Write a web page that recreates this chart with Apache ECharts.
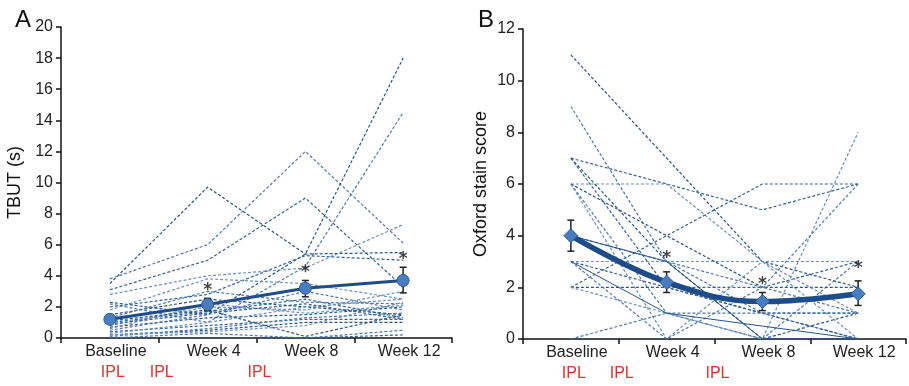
<!DOCTYPE html>
<html>
<head>
<meta charset="utf-8">
<script src="https://cdn.jsdelivr.net/npm/echarts@6/dist/echarts.min.js"></script>
<style>
  html, body { margin: 0; padding: 0; background: #fff; }
  #main { width: 909px; height: 386px; }
</style>
</head>
<body>
<div id="main"></div>
<script>
var visits = ['Baseline', 'Week 4', 'Week 8', 'Week 12'];
// half-step slots used for the IPL treatment marks under the axis
var iplSlots = ['', 'IPL', 'IPL', '', 'IPL', '', '', '', ''];

// panel A: TBUT (s), one row per patient
var tbutPatients = [
    [3.5, 9.7, 5.4, 5.5],
    [3.8, 6.0, 12.0, 6.1],
    [3.1, 5.0, 9.0, 3.3],
    [2.8, 4.0, 4.5, 7.3],
    [2.3, 1.5, 5.4, 18.0],
    [2.2, 1.0, 4.6, 14.5],
    [2.0, 2.8, 5.3, 5.0],
    [1.8, 3.8, 3.5, 2.5],
    [1.5, 2.5, 2.0, 1.5],
    [1.3, 3.0, 2.3, 2.2],
    [1.0, 1.7, 2.5, 1.3],
    [0.8, 2.0, 1.8, 3.0],
    [0.7, 1.3, 1.5, 2.0],
    [0.5, 1.5, 3.0, 1.8],
    [0.4, 0.8, 1.2, 1.2],
    [0.3, 1.0, 2.0, 2.5],
    [0.2, 0.5, 1.0, 1.0],
    [0.0, 0.3, 0.0, 0.5],
    [0.0, 0.0, 0.0, 0.2],
    [0.6, 2.2, 1.6, 2.1],
    [1.1, 1.8, 0.1, 1.5],
    [0.1, 0.6, 1.3, 1.6],
    [0.9, 1.6, 2.2, 1.2],
    [0.2, 0.4, 0.8, 2.3]
];
var tbutMean = [1.2, 2.15, 3.2, 3.7];
var tbutLow = [1.0, 1.75, 2.65, 2.9];
var tbutHigh = [1.4, 2.55, 3.7, 4.55];
var tbutStars = ['-', 3.3, 4.45, 5.3];

// panel B: Oxford stain score, one row per patient
var oxfordPatients = [
    [11, 7, 3, 2],
    [9, 3, 1, 0],
    [7, 6, 5, 6],
    [6, 6, 3, 0],
    [7, 3, 0, 1],
    [6, 1, 0, 3],
    [2, 4, 6, 6],
    [3, 3, 3, 3],
    [2, 2, 1, 1],
    [0, 1, 1, 1],
    [3, 2, 2, 3],
    [2, 1, 0, 8],
    [6, 4, 2, 2],
    [3, 0, 2, 6],
    [7, 2, 1, 0],
    [6, 0, 3, 1],
    [0, 0, 0, 0],
    [4, 3, 2, 1]
];
var oxfordSolid = [
    [4, 3, 0, 0],
    [3, 1, 0.5, 0]
];
var oxfordMean = [4.0, 2.2, 1.45, 1.75];
var oxfordLow = [3.4, 1.8, 1.1, 1.3];
var oxfordHigh = [4.6, 2.6, 1.8, 2.25];
var oxfordStars = ['-', 3.25, 2.28, 2.9];

var dashColors = ['#24558f', '#4f79b3', '#336399', '#6a8fc2'];
var FONT = 'Liberation Sans, Arial, sans-serif';

var chart = echarts.init(document.getElementById('main'));

function patientSeries(rows, axis, solid) {
    return rows.map(function (row, i) {
        return {
            type: 'line',
            xAxisIndex: axis,
            yAxisIndex: axis,
            data: row,
            symbol: 'none',
            silent: true,
            z: 1,
            lineStyle: {
                width: solid ? 1 : 1.2,
                color: solid ? '#24558f' : dashColors[i % dashColors.length],
                type: solid ? 'solid' : [3, 2]
            }
        };
    });
}

function errorSeries(low, high, axis) {
    return {
        type: 'custom',
        xAxisIndex: axis,
        yAxisIndex: axis,
        z: 4,
        silent: true,
        data: low.map(function (v, i) { return [i, v, high[i]]; }),
        renderItem: function (params, api) {
            var lo = api.coord([api.value(0), api.value(1)]);
            var hi = api.coord([api.value(0), api.value(2)]);
            var w = 3.5;
            var st = { stroke: '#222', lineWidth: 1.5 };
            return {
                type: 'group',
                children: [
                    { type: 'line', shape: { x1: lo[0], y1: lo[1], x2: hi[0], y2: hi[1] }, style: st },
                    { type: 'line', shape: { x1: lo[0] - w, y1: lo[1], x2: lo[0] + w, y2: lo[1] }, style: st },
                    { type: 'line', shape: { x1: hi[0] - w, y1: hi[1], x2: hi[0] + w, y2: hi[1] }, style: st }
                ]
            };
        }
    };
}

function starSeries(values, axis) {
    return {
        type: 'scatter',
        xAxisIndex: axis,
        yAxisIndex: axis,
        data: values,
        symbolSize: 2,
        itemStyle: { color: 'rgba(0,0,0,0)' },
        silent: true,
        z: 6,
        label: {
            show: true,
            position: 'inside',
            formatter: '*',
            fontFamily: 'DejaVu Sans, sans-serif',
            fontSize: 17,
            fontWeight: 'bold',
            color: '#111',
            offset: [0, 4]
        }
    };
}

function meanSeries(values, axis, opts) {
    return {
        type: 'line',
        xAxisIndex: axis,
        yAxisIndex: axis,
        data: values,
        smooth: opts.smooth,
        symbol: opts.symbol,
        symbolSize: opts.size,
        z: 5,
        silent: true,
        lineStyle: { width: opts.width, color: '#1d4c88' },
        itemStyle: { color: '#4a7cc0', borderColor: '#2b5b9b', borderWidth: 1 }
    };
}

function catAxis(grid) {
    return {
        type: 'category',
        gridIndex: grid,
        data: visits,
        position: 'bottom',
        axisLine: { lineStyle: { color: '#111', width: 1.5 } },
        axisTick: { show: true, length: 5, lineStyle: { color: '#111', width: 1.5 } },
        axisLabel: {
            fontFamily: FONT, fontSize: 16, color: '#222', margin: 6,
            padding: [0, 0, 0, 12]
        }
    };
}

function iplAxis(grid) {
    return {
        type: 'category',
        gridIndex: grid,
        data: iplSlots,
        position: 'bottom',
        boundaryGap: false,
        axisLine: { show: false },
        axisTick: { show: false },
        axisLabel: {
            interval: 0, fontFamily: FONT, fontSize: 16, color: '#e8302c', margin: 27,
            padding: [0, 0, 0, 6]
        }
    };
}

function valAxis(grid, max, name, gap) {
    return {
        type: 'value',
        gridIndex: grid,
        min: 0,
        max: max,
        interval: 2,
        name: name,
        nameLocation: 'middle',
        nameGap: gap,
        nameTextStyle: { fontFamily: FONT, fontSize: 18, color: '#111' },
        splitLine: { show: false },
        axisLine: { show: true, lineStyle: { color: '#111', width: 1.5 } },
        axisTick: { show: true, length: 5, lineStyle: { color: '#111', width: 1.5 } },
        axisLabel: { fontFamily: FONT, fontSize: 16, color: '#222', margin: 8 }
    };
}

var series = []
    .concat(patientSeries(tbutPatients, 0, false))
    .concat(patientSeries(oxfordPatients, 1, false))
    .concat(patientSeries(oxfordSolid, 1, true))
    .concat([
        meanSeries(tbutMean, 0, { smooth: false, symbol: 'circle', size: 12, width: 3 }),
        meanSeries(oxfordMean, 1, { smooth: 0.4, symbol: 'diamond', size: 14, width: 5.5 }),
        errorSeries(tbutLow, tbutHigh, 0),
        errorSeries(oxfordLow, oxfordHigh, 1),
        starSeries(tbutStars, 0),
        starSeries(oxfordStars, 1)
    ]);

chart.setOption({
    animation: false,
    backgroundColor: '#fff',
    title: [
        { text: 'A', left: 10, top: 3, textStyle: { fontFamily: FONT, fontSize: 24, fontWeight: 'normal', color: '#111' } },
        { text: 'B', left: 473, top: 3, textStyle: { fontFamily: FONT, fontSize: 24, fontWeight: 'normal', color: '#111' } }
    ],
    grid: [
        { left: 61, top: 27, width: 391, height: 311 },
        { left: 523, top: 29, width: 390, height: 310 }
    ],
    xAxis: [catAxis(0), catAxis(1), iplAxis(0), iplAxis(1)],
    yAxis: [
        valAxis(0, 20, 'TBUT (s)', 37),
        valAxis(1, 12, 'Oxford stain score', 33)
    ],
    series: series
});
</script>
</body>
</html>
